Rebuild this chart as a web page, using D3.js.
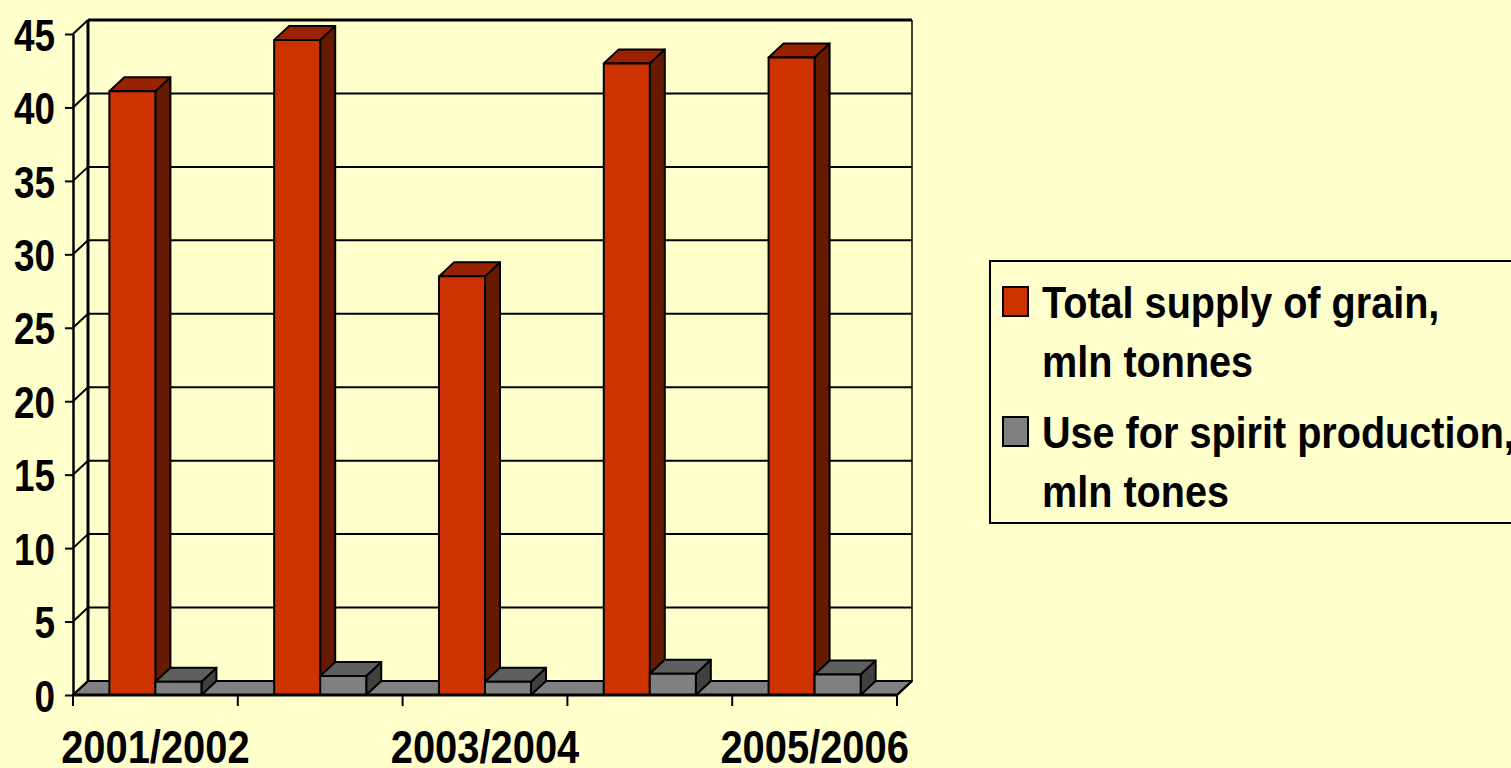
<!DOCTYPE html>
<html><head><meta charset="utf-8">
<script src="https://cdn.jsdelivr.net/npm/d3@7"></script>
<style>
html,body{margin:0;padding:0;background:#FFFFCC;}
svg{display:block;}
text{font-family:"Liberation Sans Narrow","Arial Narrow","Liberation Sans",Arial,sans-serif;font-weight:bold;fill:#000;}
</style></head>
<body>
<script>
const categories = ["2001/2002","2002/2003","2003/2004","2004/2005","2005/2006"];
const tickLabels = ["2001/2002","","2003/2004","","2005/2006"];
const seriesNames = ["Total supply of grain, mln tonnes","Use for spirit production, mln tones"];
const legendLines = [["Total supply of grain,","mln tonnes"],["Use for spirit production,","mln tones"]];
const grainSupply = [41.1, 44.6, 28.5, 43.0, 43.4];
const spiritUse = [0.9, 1.3, 0.9, 1.45, 1.4];
const yTicks = [0,5,10,15,20,25,30,35,40,45];

const W = 1511, H = 768;
const SX_Y = 0.82, SX_X = 0.867, SX_L = 0.90; // horizontal condensing to mimic a narrow face
const svg = d3.select("body").append("svg").attr("width", W).attr("height", H);
svg.append("rect").attr("width", W).attr("height", H).attr("fill", "#FFFFCC");

function narrowText(parent, tx, ty, str, size, anchor, sx) {
  return parent.append("text")
    .attr("transform", `translate(${tx},${ty}) scale(${sx},1)`)
    .attr("text-anchor", anchor || "start")
    .attr("font-size", size).text(str);
}

const x0 = 73, x1 = 897, yBase = 695, yTop = 34;
const dx = 15, dy = -14;
const y = d3.scaleLinear().domain([0,45]).range([yBase, yTop]);
const x = d3.scaleBand().domain(categories).range([x0, x1]).paddingInner(0).paddingOuter(0);
const xs = d3.scaleBand().domain([0,1]).range([0, x.bandwidth()]).paddingInner(0).paddingOuter(0.79);

const faces = [
  {front:"#CC3300", top:"#992200", side:"#661A00"},
  {front:"#808080", top:"#5F5F5F", side:"#404040"}
];

// floor
const g = svg.append("g");
g.append("polygon")
  .attr("points", [[x0,yBase],[x1,yBase],[x1+dx,yBase+dy],[x0+dx,yBase+dy]].join(" "))
  .attr("fill", "#808080").attr("stroke", "#000").attr("stroke-width", 2).attr("stroke-linejoin","round");

// gridlines on back wall and left wall
yTicks.forEach(v => {
  const yy = y(v);
  if (v > 0) {
    g.append("line").attr("x1", x0+dx).attr("x2", x1+dx).attr("y1", yy+dy).attr("y2", yy+dy)
      .attr("stroke", "#000").attr("stroke-width", v === 45 ? 3 : 2);
  }
  g.append("line").attr("x1", x0).attr("x2", x0+dx).attr("y1", yy).attr("y2", yy+dy)
    .attr("stroke", "#000").attr("stroke-width", 2);
});
// wall edges
g.append("line").attr("x1", x0+dx).attr("x2", x0+dx).attr("y1", y(0)+dy).attr("y2", y(45)+dy).attr("stroke","#000").attr("stroke-width",3);
g.append("line").attr("x1", x1+dx).attr("x2", x1+dx).attr("y1", y(0)+dy).attr("y2", y(45)+dy).attr("stroke","#000").attr("stroke-width",1.5);

// bars
const data = [grainSupply, spiritUse];
categories.forEach((c, i) => {
  [0,1].forEach(s => {
    const v = data[s][i];
    const bx = x(c) + xs(s), bw = xs.bandwidth();
    const bt = y(v), bb = y(0);
    const col = faces[s];
    const bg = svg.append("g").attr("stroke","#000").attr("stroke-width",2).attr("stroke-linejoin","round");
    bg.append("polygon").attr("points", [[bx+bw,bb],[bx+bw+dx,bb+dy],[bx+bw+dx,bt+dy],[bx+bw,bt]].join(" ")).attr("fill", col.side);
    bg.append("polygon").attr("points", [[bx,bt],[bx+bw,bt],[bx+bw+dx,bt+dy],[bx+dx,bt+dy]].join(" ")).attr("fill", col.top);
    bg.append("rect").attr("x", bx).attr("y", bt).attr("width", bw).attr("height", bb-bt).attr("fill", col.front);
  });
});

// Y axis
const yAxis = svg.append("g").attr("transform", `translate(${x0},0)`)
  .call(d3.axisLeft(y).tickValues(yTicks).tickSize(8).tickSizeOuter(0).tickPadding(14).tickFormat(d3.format("d")));
yAxis.select(".domain").attr("stroke","#000").attr("stroke-width",2.5);
yAxis.selectAll(".tick line").attr("stroke","#000").attr("stroke-width",2);
yAxis.selectAll(".tick text").attr("font-size", 45).attr("font-family", null).attr("dy","0.36em")
  .attr("transform", `scale(${SX_Y},1)`);

// X axis line and ticks at boundaries
svg.append("line").attr("x1", x0).attr("x2", x1).attr("y1", yBase).attr("y2", yBase).attr("stroke","#000").attr("stroke-width",3);
svg.append("line").attr("x1", x1).attr("x2", x1+dx).attr("y1", yBase).attr("y2", yBase+dy).attr("stroke","#000").attr("stroke-width",2);
const bounds = categories.map(c => x(c)).concat([x1]);
bounds.forEach(b => {
  svg.append("line").attr("x1", b).attr("x2", b).attr("y1", yBase).attr("y2", yBase+11).attr("stroke","#000").attr("stroke-width",2);
});
categories.forEach((c, i) => {
  if (!tickLabels[i]) return;
  narrowText(svg, x(c) + x.bandwidth()/2, 763, tickLabels[i], 46, "middle", SX_X);
});

// Legend
const lg = svg.append("g");
lg.append("rect").attr("x", 990).attr("y", 261).attr("width", 540).attr("height", 262)
  .attr("fill","#FFFFCC").attr("stroke","#000").attr("stroke-width",2);
const legendTop = [287, 417];
legendLines.forEach((lines, s) => {
  lg.append("rect").attr("x", 1003).attr("y", legendTop[s]).attr("width", 25).attr("height", 29)
    .attr("fill", faces[s].front).attr("stroke","#000").attr("stroke-width",2);
  lines.forEach((t, k) => {
    narrowText(lg, 1042, legendTop[s] + 31 + k*59, t, 44, "start", SX_L);
  });
});
</script>
</body></html>
